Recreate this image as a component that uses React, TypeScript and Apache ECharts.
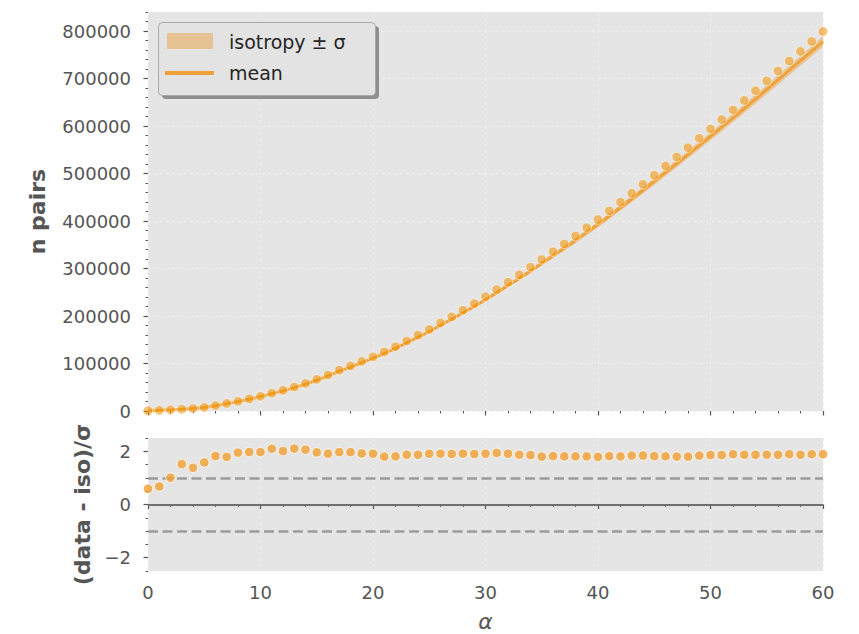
import React, { useEffect, useRef } from "react";
import * as echarts from "echarts";

// alpha (deg) 0..60
const alphas: number[] = [
  0, 1, 2, 3, 4, 5, 6, 7, 8, 9, 10, 11, 12, 13, 14, 15, 16, 17, 18, 19, 20,
  21, 22, 23, 24, 25, 26, 27, 28, 29, 30, 31, 32, 33, 34, 35, 36, 37, 38, 39, 40,
  41, 42, 43, 44, 45, 46, 47, 48, 49, 50, 51, 52, 53, 54, 55, 56, 57, 58, 59, 60,
];

// observed number of pairs
const dataPairs: number[] = [
  500, 1500, 2500, 3800, 5400, 7700, 11500, 16000, 20500, 25500, 31000,
  37500, 43500, 50500, 58000, 66500, 75800, 86000, 95000, 104500, 114100,
  124300, 135300, 147500, 159600, 171800, 185300, 198300, 212200, 226200, 240600,
  255600, 271000, 286600, 302800, 319000, 335500, 351800, 368500, 386000, 403000,
  421200, 439700, 458300, 477200, 496200, 515800, 534800, 554300, 574200, 593900,
  613600, 633800, 653800, 674300, 695000, 715800, 736600, 757200, 778000, 798900,
];

// isotropy mean
const isoMean: number[] = [
  470, 1420, 2380, 3600, 5150, 7400, 11100, 15500, 19900, 24800, 30200,
  36500, 42400, 49200, 56500, 64800, 73800, 83800, 92500, 101800, 111100,
  121100, 131800, 143700, 155500, 167300, 180500, 193100, 206700, 220300, 234300,
  249000, 264000, 279100, 294900, 310700, 326800, 342700, 358900, 376000, 392500,
  410200, 428300, 446400, 464800, 483300, 502400, 520900, 539900, 559300, 578500,
  597600, 617300, 636800, 656800, 676900, 697200, 717500, 737500, 757800, 778100,
];

// isotropy sigma
const isoSigma: number[] = [
  50, 120, 120, 130, 180, 190, 220, 280, 310, 360, 420,
  480, 550, 620, 730, 870, 1000, 1100, 1270, 1410, 1570,
  1770, 1930, 2030, 2200, 2360, 2520, 2720, 2880, 3100, 3300,
  3400, 3660, 3930, 4190, 4560, 4700, 5000, 5360, 5520, 5870,
  6000, 6300, 6580, 6850, 7250, 7500, 7800, 8000, 8250, 8550,
  8700, 8800, 9200, 9400, 9800, 10100, 10000, 10500, 10700, 11000,
];

// residual (data - iso)/sigma
const residual: number[] = [
  0.59, 0.68, 1.01, 1.52, 1.38, 1.58, 1.82, 1.79, 1.95, 1.97, 1.97,
  2.1, 2.01, 2.1, 2.06, 1.96, 1.91, 1.97, 1.97, 1.92, 1.91,
  1.8, 1.81, 1.87, 1.87, 1.91, 1.91, 1.9, 1.91, 1.9, 1.91,
  1.94, 1.91, 1.87, 1.86, 1.8, 1.82, 1.81, 1.81, 1.81, 1.79,
  1.82, 1.81, 1.84, 1.84, 1.82, 1.81, 1.8, 1.8, 1.84, 1.86,
  1.86, 1.89, 1.87, 1.87, 1.87, 1.87, 1.89, 1.87, 1.89, 1.89,
];

const topMajorTicks: number[] = [0, 100000, 200000, 300000, 400000, 500000, 600000, 700000, 800000];
const botMajorTicks: number[] = [-2, 0, 2];
const refLines = { zero: 0, plus: 1, minus: -1 };

const FONT = "DejaVu Sans";
const TICK_COLOR = "#555555";

export default function App() {
  const ref = useRef<HTMLDivElement>(null);

  useEffect(() => {
    if (!ref.current) return;
    const chart = echarts.init(ref.current, null, { renderer: "svg" });

    const bandRows = alphas.map((a, i) => [a, isoMean[i] - isoSigma[i], isoMean[i] + isoSigma[i]]);
    const meanLine = alphas.map((a, i) => [a, isoMean[i]]);
    const pts = alphas.map((a, i) => [a, dataPairs[i]]);
    const resPts = alphas.map((a, i) => [a, residual[i]]);

    const gridLine = { show: true, lineStyle: { color: "#f0f0f0", width: 0.8, type: [3, 3] } };
    const labelStyle = { color: TICK_COLOR, fontFamily: FONT, fontSize: 18 };

    const xBase = (gridIndex: number, showLabel: boolean) => ({
      type: "value",
      gridIndex,
      min: 0,
      max: 60,
      interval: 10,
      axisLine: { show: false },
      axisTick: { show: true, length: 4.5, lineStyle: { color: TICK_COLOR, width: 1.2 } },
      minorTick: { show: true, splitNumber: 5, length: 2.5, lineStyle: { color: TICK_COLOR, width: 1 } },
      splitLine: gridLine,
      axisLabel: showLabel ? { ...labelStyle, margin: 12 } : { show: false },
    });

    const option: any = {
      animation: false,
      backgroundColor: "#ffffff",
      grid: [
        {
          left: 148, top: 12, width: 675, height: 399, show: true, backgroundColor: "#e5e5e5",
          borderWidth: 0, containLabel: false, outerBoundsMode: "none",
        },
        {
          left: 148, top: 438, width: 675, height: 133, show: true, backgroundColor: "#e5e5e5",
          borderWidth: 0, containLabel: false, outerBoundsMode: "none",
        },
      ],
      xAxis: [
        xBase(0, false),
        {
          ...xBase(1, true),
          name: "α",
          nameLocation: "middle",
          nameGap: 39,
          nameTextStyle: { color: TICK_COLOR, fontFamily: FONT, fontSize: 22, fontStyle: "italic", lineHeight: 22 },
        },
      ],
      yAxis: [
        {
          type: "value",
          gridIndex: 0,
          position: "left",
          offset: 0,
          min: 0,
          max: 840000,
          interval: 20000,
          axisLine: { show: false },
          axisTick: { show: true, length: 2.5, lineStyle: { color: TICK_COLOR, width: 1 } },
          axisLabel: { show: false },
          splitLine: { show: false },
        },
        {
          type: "value",
          gridIndex: 0,
          position: "left",
          offset: 0,
          min: 0,
          max: 840000,
          interval: 100000,
          name: "n pairs",
          nameLocation: "middle",
          nameGap: 100,
          nameTextStyle: { color: TICK_COLOR, fontFamily: FONT, fontSize: 22, fontWeight: "bold" },
          axisLine: { show: false },
          axisTick: { show: true, length: 4.5, customValues: topMajorTicks, lineStyle: { color: TICK_COLOR, width: 1.2 } },
          axisLabel: { ...labelStyle, margin: 17, customValues: topMajorTicks, formatter: (v: number) => String(v) },
          splitLine: gridLine,
        },
        {
          type: "value",
          gridIndex: 1,
          position: "left",
          offset: 0,
          min: -2.5,
          max: 2.5,
          interval: 0.5,
          axisLine: { show: false },
          axisTick: { show: true, length: 2.5, lineStyle: { color: TICK_COLOR, width: 1 } },
          axisLabel: { show: false },
          splitLine: { show: false },
        },
        {
          type: "value",
          gridIndex: 1,
          position: "left",
          offset: 0,
          min: -2.5,
          max: 2.5,
          interval: 0.5,
          name: "(data - iso)/σ",
          nameLocation: "middle",
          nameGap: 46,
          nameTextStyle: { color: TICK_COLOR, fontFamily: FONT, fontSize: 22, fontWeight: "bold" },
          axisLine: { show: false },
          axisTick: { show: true, length: 4.5, customValues: botMajorTicks, lineStyle: { color: TICK_COLOR, width: 1.2 } },
          axisLabel: {
            ...labelStyle,
            margin: 17,
            customValues: botMajorTicks,
            formatter: (v: number) => String(v).replace("-", "\u2212"),
          },
          splitLine: { show: false },
        },
      ],
      series: [
        {
          type: "custom",
          xAxisIndex: 0,
          yAxisIndex: 1,
          data: bandRows,
          encode: { x: 0, y: [1, 2] },
          z: 2,
          silent: true,
          renderItem: (params: any, api: any) => {
            if (params.dataIndex !== 0) return null;
            const upper = bandRows.map((r) => api.coord([r[0], r[2]]));
            const lowerPts = bandRows.map((r) => api.coord([r[0], r[1]])).reverse();
            return {
              type: "polygon",
              shape: { points: upper.concat(lowerPts) },
              style: { fill: "rgba(236,168,78,0.5)" },
            };
          },
        },
        {
          type: "line",
          xAxisIndex: 0,
          yAxisIndex: 1,
          data: meanLine,
          symbol: "none",
          lineStyle: { color: "#f0a23a", width: 3 },
          z: 3,
        },
        {
          type: "scatter",
          xAxisIndex: 0,
          yAxisIndex: 1,
          data: pts,
          symbolSize: 9.5,
          itemStyle: { color: "rgba(243,146,0,0.68)", borderColor: "rgba(255,255,255,0.7)", borderWidth: 1 },
          z: 4,
        },
        {
          type: "scatter",
          xAxisIndex: 1,
          yAxisIndex: 3,
          data: resPts,
          symbolSize: 9.5,
          itemStyle: { color: "#f1a031", borderColor: "#ffffff", borderWidth: 1 },
          z: 4,
          markLine: {
            silent: true,
            symbol: "none",
            label: { show: false },
            z: 2,
            data: [
              { yAxis: refLines.zero, lineStyle: { color: "#6f6f6f", width: 1.8, type: "solid" } },
              { yAxis: refLines.plus, lineStyle: { color: "#9b9b9b", width: 2.5, type: [10, 4.5] } },
              { yAxis: refLines.minus, lineStyle: { color: "#9b9b9b", width: 2.5, type: [10, 4.5] } },
            ],
          },
        },
      ],
      graphic: [
        {
          type: "rect",
          shape: { x: 162, y: 26, width: 217, height: 73, r: 4 },
          style: { fill: "#8e8e8e" },
          z: 100,
        },
        {
          type: "rect",
          shape: { x: 158.5, y: 22.5, width: 217, height: 73, r: 4 },
          style: { fill: "#e3e3e3", stroke: "#a9a9a9", lineWidth: 1 },
          z: 101,
        },
        {
          type: "rect",
          shape: { x: 167, y: 33, width: 46, height: 16 },
          style: { fill: "#e6c393" },
          z: 102,
        },
        {
          type: "line",
          shape: { x1: 165, y1: 73, x2: 214, y2: 73 },
          style: { stroke: "#f0a23a", lineWidth: 4 },
          z: 102,
        },
        {
          type: "text",
          x: 229,
          y: 42,
          style: { text: "isotropy ± σ", fill: "#262626", font: `19px "${FONT}"`, verticalAlign: "middle" },
          z: 102,
        },
        {
          type: "text",
          x: 229,
          y: 73,
          style: { text: "mean", fill: "#262626", font: `19px "${FONT}"`, verticalAlign: "middle" },
          z: 102,
        },
      ],
    };

    chart.setOption(option);
    return () => chart.dispose();
  }, []);

  return (
    <div
      ref={ref}
      style={{ position: "fixed", left: 0, top: 0, width: 859, height: 634, background: "#ffffff" }}
    />
  );
}
